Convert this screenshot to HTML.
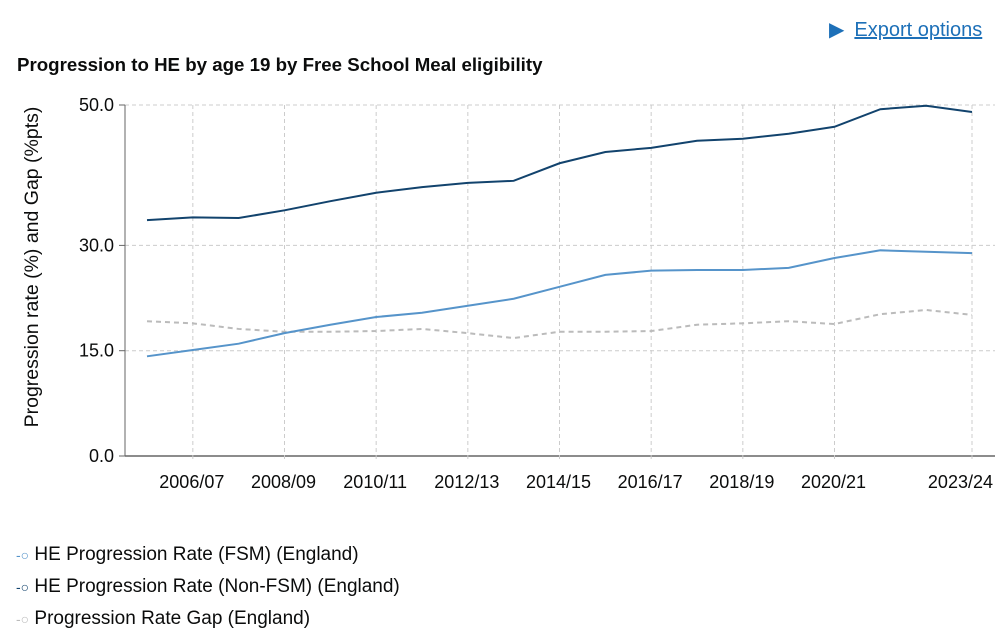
<!DOCTYPE html>
<html><head><meta charset="utf-8"><style>
body{margin:0;width:1000px;height:639px;background:#fff;font-family:"Liberation Sans",sans-serif;overflow:hidden;position:relative}
.exp{position:absolute;left:829px;top:17px;font-size:20px;color:#1d70b8}
.exp span{text-decoration:underline;margin-left:10px}
h1{position:absolute;left:17px;top:54px;margin:0;font-size:18.7px;font-weight:bold;color:#0b0c0c}
.leg{position:absolute;left:16px;font-size:19px;color:#0b0c0c}
</style></head><body>
<div class="exp">&#9654;<span>Export options</span></div>
<h1>Progression to HE by age 19 by Free School Meal eligibility</h1>
<svg id="c" width="1000" height="639" style="position:absolute;left:0;top:0"></svg>
<div class="leg" style="top:544px"><span style="color:#5694ca;font-size:14px">-○</span> HE Progression Rate (FSM) (England)</div>
<div class="leg" style="top:576px"><span style="color:#12436d;font-size:14px">-○</span> HE Progression Rate (Non-FSM) (England)</div>
<div class="leg" style="top:608px"><span style="color:#bbb;font-size:14px">-○</span> Progression Rate Gap (England)</div>
<script>
const categories=["2005/06","2006/07","2007/08","2008/09","2009/10","2010/11","2011/12","2012/13","2013/14","2014/15","2015/16","2016/17","2017/18","2018/19","2019/20","2020/21","2021/22","2022/23","2023/24"];
const fsm=[14.2,15.1,16.0,17.5,18.7,19.8,20.4,21.4,22.4,24.1,25.8,26.4,26.5,26.5,26.8,28.2,29.3,29.1,28.9];
const nonFsm=[33.6,34.0,33.9,35.0,36.3,37.5,38.3,38.9,39.2,41.7,43.3,43.9,44.9,45.2,45.9,46.9,49.4,49.9,49.0];
const gap=[19.2,18.9,18.1,17.7,17.7,17.8,18.1,17.5,16.8,17.7,17.7,17.8,18.7,18.9,19.2,18.8,20.2,20.8,20.1];
const yTicks=[0,15,30,50];
const xLabelIdx=[1,3,5,7,9,11,13,15,18];
const svg=document.getElementById('c');const NS='http://www.w3.org/2000/svg';
const x=i=>147+i*(972-147)/(categories.length-1);
const y=v=>456-v*(456-105)/50;
function el(t,a){const e=document.createElementNS(NS,t);for(const k in a)e.setAttribute(k,a[k]);svg.appendChild(e);return e;}
yTicks.forEach(v=>{
 const g=el('line',{x1:125,x2:995,y1:y(v),y2:y(v),stroke:v?'#ccc':'#666','stroke-dasharray':v?'4,3':'0','stroke-width':v?1:1.5});
 
 
 el('line',{x1:119,x2:125,y1:y(v),y2:y(v),stroke:'#666'});
 const t=el('text',{x:114,y:y(v)+6,'text-anchor':'end','font-size':18,fill:'#0b0c0c'});t.textContent=v.toFixed(1);
 
 
});
xLabelIdx.forEach((i,k)=>{
 el('line',{x1:x(i),x2:x(i),y1:105,y2:462,stroke:'#ccc','stroke-dasharray':'4,3'});
 const last=k===xLabelIdx.length-1;
 const t=el('text',{x:last?993:x(i)-1,y:488,'text-anchor':last?'end':'middle','font-size':18,fill:'#0b0c0c'});t.textContent=categories[i];
 
 
});
el('line',{x1:125,x2:125,y1:105,y2:456,stroke:'#666'});
const yt=el('text',{x:0,y:0,transform:'translate(38,267) rotate(-90)','text-anchor':'middle','font-size':19.5,fill:'#0b0c0c'});
yt.textContent='Progression rate (%) and Gap (%pts)';


function line(d,c,dash,name){
 const p=el('polyline',{points:d.map((v,i)=>x(i)+','+y(v)).join(' '),fill:'none',stroke:c,'stroke-width':2,'stroke-dasharray':dash});
 
 
}
line(gap,'#bbb','5,4','gap-line');
line(fsm,'#5694ca','0','fsm-line');
line(nonFsm,'#12436d','0','non-fsm-line');
</script>
</body></html>
